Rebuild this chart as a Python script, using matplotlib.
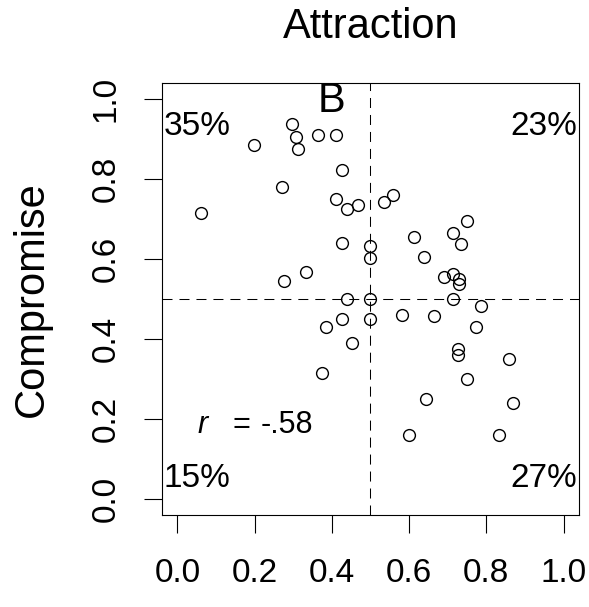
import matplotlib as mpl
mpl.use('Agg')
import matplotlib.pyplot as plt

plt.rcParams['font.family'] = ['Liberation Sans', 'DejaVu Sans']

# attraction (x) vs compromise (y), one point per participant
attraction = [0.062, 0.198, 0.297, 0.307, 0.312, 0.365, 0.411, 0.426, 0.270, 0.411,
              0.438, 0.467, 0.426, 0.500, 0.500, 0.332, 0.276, 0.438, 0.500, 0.500,
              0.536, 0.558, 0.749, 0.614, 0.713, 0.734, 0.639, 0.691, 0.713, 0.730,
              0.728, 0.713, 0.581, 0.665, 0.785, 0.774, 0.727, 0.727, 0.858, 0.749,
              0.645, 0.868, 0.599, 0.832, 0.385, 0.425, 0.452, 0.374]
compromise = [0.716, 0.886, 0.937, 0.906, 0.875, 0.911, 0.911, 0.822, 0.781, 0.751,
              0.726, 0.735, 0.641, 0.632, 0.602, 0.567, 0.546, 0.500, 0.500, 0.451,
              0.742, 0.761, 0.695, 0.656, 0.665, 0.637, 0.606, 0.556, 0.563, 0.550,
              0.537, 0.500, 0.461, 0.457, 0.482, 0.431, 0.375, 0.361, 0.351, 0.301,
              0.251, 0.240, 0.161, 0.161, 0.431, 0.451, 0.391, 0.316]

ticks = [0.0, 0.2, 0.4, 0.6, 0.8, 1.0]
tick_labels = ['0.0', '0.2', '0.4', '0.6', '0.8', '1.0']

quadrant_labels = ['35%', '23%', '15%', '27%']
quadrant_pos = [(0.05, 0.93), (0.95, 0.93), (0.05, 0.05), (0.95, 0.05)]
r_value = '-.58'

fig = plt.figure(figsize=(5.89, 6.07), dpi=100)
ax = fig.add_axes([0.275, 0.1516, 0.708, 0.7117])

ax.plot(attraction, compromise, 'o', mfc='none', mec='black', ms=8.5, mew=1.0)
dash = (0, (9.6, 6.7))
ax.axvline(0.5, color='black', lw=0.75, ls=dash)
ax.axhline(0.5, color='black', lw=0.75, ls=dash)

ax.set_xlim(-0.04, 1.04)
ax.set_ylim(-0.04, 1.04)
ax.set_xticks(ticks)
ax.set_xticklabels(tick_labels)
ax.set_yticks(ticks)
ax.set_yticklabels(tick_labels, rotation=90, va='center')
ax.tick_params(axis='both', length=13, width=0.8, labelsize=24, direction='out')
ax.tick_params(axis='x', pad=18)
ax.tick_params(axis='y', pad=16)
for sp in ax.spines.values():
    sp.set_linewidth(0.8)

for txt, (qx, qy) in zip(quadrant_labels, quadrant_pos):
    ax.text(qx, qy, txt, fontsize=24, ha='center', va='center')

ax.text(0.4, 0.995, 'B', fontsize=30, ha='center', va='center')

# correlation label: italic r, then "= -.58" with wide math spacing
ax.text(0.064, 0.165, 'r', fontsize=22, style='italic', ha='center', va='baseline')
ax.text(0.1655, 0.165, '=', fontsize=22, ha='center', va='baseline')
ax.text(0.2834, 0.165, r_value, fontsize=22, ha='center', va='baseline')

fig.text(370.5 / 589, 1 - 38.3 / 607, 'Attraction', fontsize=30,
         ha='center', va='baseline')
ax.set_ylabel('Compromise', fontsize=30)
ax.yaxis.set_label_coords(-0.264, 0.5)

plt.savefig('out.png', dpi=100)
